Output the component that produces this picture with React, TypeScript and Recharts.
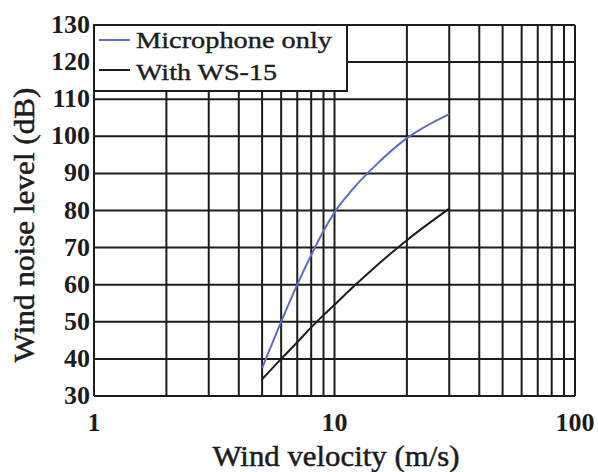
import React from 'react';
import { LineChart, Line, XAxis, YAxis, CartesianGrid, Legend } from 'recharts';

const velocity = [5, 6, 7, 8, 9, 10, 12, 15, 20, 30];
const micOnly = [37.5, 50, 60, 68, 74.5, 79.5, 86, 92.5, 99.5, 106];
const withWS15 = [34.5, 40, 44.5, 48.5, 51.8, 54.6, 59.5, 65.2, 72, 80.5];

const xTicks = [1, 2, 3, 4, 5, 6, 7, 8, 9, 10, 20, 30, 40, 50, 60, 70, 80, 90, 100];
const xLabels = [1, 10, 100];
const yTicks = [30, 40, 50, 60, 70, 80, 90, 100, 110, 120, 130];

const data = velocity.map((v, i) => ({ v, mic: micOnly[i], ws: withWS15[i] }));

const FONT = '"Liberation Serif", "Times New Roman", serif';
const INK = '#1c1c1c';

// legend text widths, the source font is wider than Times
const legendWidths: Record<string, number> = { 'Microphone only': 196, 'With WS-15': 141 };

function XTick({ x, y, payload }: any) {
  if (!xLabels.includes(payload.value)) return null;
  return (
    <text x={x} y={y + 35} textAnchor="middle" fontFamily={FONT} fontWeight="bold" fontSize={26} fill={INK}>
      {payload.value}
    </text>
  );
}

function YTick({ x, y, payload }: any) {
  return (
    <text x={x} y={y + 8} textAnchor="end" fontFamily={FONT} fontWeight="bold" fontSize={26} fill={INK}>
      {payload.value}
    </text>
  );
}

function renderLegend({ payload }: any) {
  return (
    <svg width={255} height={68} style={{ display: 'block' }}>
      <rect x={1} y={1} width={253} height={66} fill="#fff" stroke={INK} strokeWidth={2} />
      {(payload || []).map((entry: any, i: number) => (
        <g key={entry.value}>
          <line x1={6} x2={37} y1={16 + i * 30} y2={16 + i * 30} stroke={entry.color} strokeWidth={2} />
          <text
            x={43}
            y={24 + i * 32}
            fontFamily={FONT}
            fontSize={24}
            fill={INK}
            stroke={INK}
            strokeWidth={0.4}
            textLength={legendWidths[entry.value]}
            lengthAdjust="spacingAndGlyphs"
          >
            {entry.value}
          </text>
        </g>
      ))}
    </svg>
  );
}

export default function App() {
  return (
    <div style={{ position: 'absolute', left: 0, top: 0, background: '#fff' }}>
      <LineChart width={598} height={472} data={data} margin={{ top: 25, right: 23, bottom: 0, left: 0 }}>
        <CartesianGrid stroke={INK} strokeWidth={2} strokeOpacity={1} />
        <XAxis
          dataKey="v"
          type="number"
          scale="log"
          domain={[1, 100]}
          ticks={xTicks}
          interval={0}
          height={76}
          axisLine={false}
          tickLine={false}
          tickSize={0}
          tickMargin={0}
          tick={<XTick />}
          label={{
            content: () => (
              <text
                x={336}
                y={466}
                textAnchor="middle"
                fontFamily={FONT}
                fontSize={29}
                fill={INK}
                stroke={INK}
                strokeWidth={0.5}
                textLength={247}
                lengthAdjust="spacingAndGlyphs"
              >
                Wind velocity (m/s)
              </text>
            ),
          }}
        />
        <YAxis
          type="number"
          domain={[30, 130]}
          ticks={yTicks}
          interval={0}
          width={94}
          axisLine={false}
          tickLine={false}
          tickSize={0}
          tickMargin={4}
          tick={<YTick />}
          label={{
            content: () => (
              <text
                x={34}
                y={225}
                transform="rotate(-90, 34, 225)"
                textAnchor="middle"
                fontFamily={FONT}
                fontSize={29}
                fill={INK}
                stroke={INK}
                strokeWidth={0.5}
                textLength={275}
                lengthAdjust="spacingAndGlyphs"
              >
                Wind noise level (dB)
              </text>
            ),
          }}
        />
        <Legend
          content={renderLegend}
          layout="vertical"
          align="center"
          verticalAlign="middle"
          wrapperStyle={{ left: 93, top: 24, width: 255, height: 68 }}
        />
        <Line
          name="Microphone only"
          dataKey="mic"
          type="monotone"
          stroke="#5f6cc2"
          strokeWidth={2}
          dot={false}
          isAnimationActive={false}
        />
        <Line
          name="With WS-15"
          dataKey="ws"
          type="monotone"
          stroke={INK}
          strokeWidth={2}
          dot={false}
          isAnimationActive={false}
        />
      </LineChart>
    </div>
  );
}
